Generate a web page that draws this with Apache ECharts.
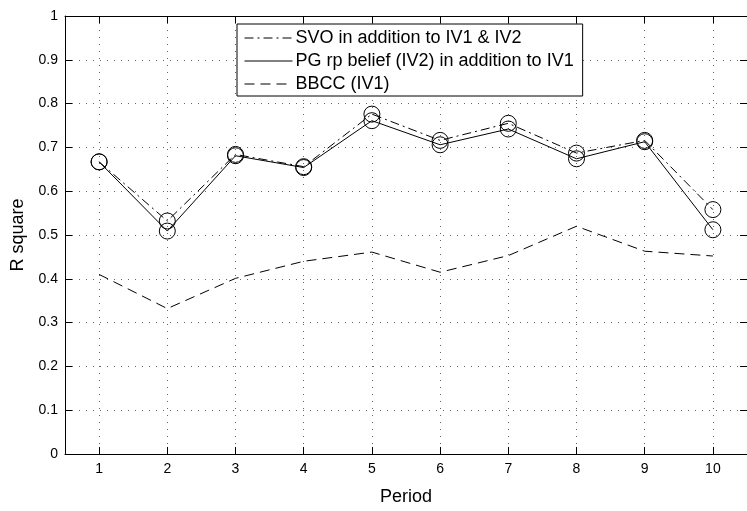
<!DOCTYPE html>
<html>
<head>
<meta charset="utf-8">
<script src="https://cdn.jsdelivr.net/npm/echarts@6/dist/echarts.min.js"></script>
<style>
  html, body { margin: 0; padding: 0; background: #fff; overflow: hidden; }
  #chart { width: 747px; height: 511px; }
</style>
</head>
<body>
<div id="chart"></div>
<script>
// periods on the x axis
const periods = [1, 2, 3, 4, 5, 6, 7, 8, 9, 10];

// R square values
const svoValues = [0.667, 0.532, 0.684, 0.656, 0.776, 0.716, 0.755, 0.687, 0.716, 0.558];
const pgValues = [0.667, 0.509, 0.681, 0.654, 0.761, 0.706, 0.742, 0.674, 0.713, 0.512];
const bbccValues = [0.410, 0.332, 0.401, 0.440, 0.461, 0.415, 0.453, 0.520, 0.463, 0.452];

const seriesNames = [
    'SVO in addition to IV1 & IV2',
    'PG rp belief (IV2) in addition to IV1',
    'BBCC (IV1)'
];

const font = '"Liberation Sans", Arial, Helvetica, sans-serif';

function pairs(values) {
    return periods.map((p, i) => [p, values[i]]);
}

const markerStyle = {
    color: 'rgba(0,0,0,0)',
    borderColor: '#000',
    borderWidth: 1
};

const chart = echarts.init(document.getElementById('chart'), null, { renderer: 'canvas' });

// the figure is cropped on the right, so the plot box runs past the page edge
const xCommon = {
    type: 'value',
    min: 0.5,
    max: 10.5,
    axisLine: { show: true, onZero: false, lineStyle: { color: '#000', width: 1 } },
    axisTick: { show: true, inside: true, length: 7, customValues: periods, lineStyle: { color: '#000' } }
};

const yCommon = {
    type: 'value',
    min: 0,
    max: 1,
    interval: 0.1,
    axisLine: { show: true, onZero: false, lineStyle: { color: '#000', width: 1 } },
    axisTick: { show: true, inside: true, length: 7, lineStyle: { color: '#000' } }
};

const option = {
    backgroundColor: '#fff',
    animation: false,
    grid: { left: 65, right: -11, top: 16, bottom: 44, containLabel: false },
    legend: {
        orient: 'vertical',
        left: 237,
        top: 24,
        data: seriesNames,
        backgroundColor: '#fff',
        borderColor: '#000',
        borderWidth: 1,
        borderRadius: 0,
        padding: [5, 9, 3, 7],
        itemGap: 5,
        itemWidth: 48,
        itemHeight: 18,
        selectedMode: false,
        itemStyle: { opacity: 0 },
        lineStyle: { width: 1 },
        textStyle: { fontFamily: font, fontSize: 18, color: '#000', padding: [0, 0, 0, -2] }
    },
    xAxis: [
        Object.assign({}, xCommon, {
            position: 'bottom',
            name: 'Period',
            nameLocation: 'middle',
            nameGap: 34,
            nameTextStyle: { fontFamily: font, fontSize: 18, color: '#000' },
            axisLabel: { show: true, margin: 8, customValues: periods, fontFamily: font, fontSize: 14, color: '#000' },
            splitLine: { show: true, lineStyle: { color: '#666', width: 1, type: [1, 6] } }
        }),
        Object.assign({}, xCommon, {
            position: 'top',
            axisLabel: { show: false },
            splitLine: { show: false }
        })
    ],
    yAxis: [
        Object.assign({}, yCommon, {
            position: 'left',
            name: 'R square',
            nameLocation: 'middle',
            nameGap: 38,
            nameTextStyle: { fontFamily: font, fontSize: 18, color: '#000' },
            axisLabel: { show: true, margin: 7, fontFamily: font, fontSize: 14, color: '#000' },
            splitLine: { show: true, lineStyle: { color: '#666', width: 1, type: [1, 6] } }
        }),
        Object.assign({}, yCommon, {
            position: 'right',
            axisLabel: { show: false },
            splitLine: { show: false }
        })
    ],
    series: [
        {
            name: seriesNames[0],
            type: 'line',
            data: pairs(svoValues),
            symbol: 'circle',
            symbolSize: 16,
            itemStyle: markerStyle,
            lineStyle: { color: '#000', width: 1, type: [9, 4, 2, 4] },
            z: 3
        },
        {
            name: seriesNames[1],
            type: 'line',
            data: pairs(pgValues),
            symbol: 'circle',
            symbolSize: 16,
            itemStyle: markerStyle,
            lineStyle: { color: '#000', width: 1, type: 'solid' },
            z: 3
        },
        {
            name: seriesNames[2],
            type: 'line',
            data: pairs(bbccValues),
            symbol: 'none',
            itemStyle: { color: '#000' },
            lineStyle: { color: '#000', width: 1, type: [10, 6] },
            z: 2
        }
    ]
};

chart.setOption(option);
</script>
</body>
</html>
